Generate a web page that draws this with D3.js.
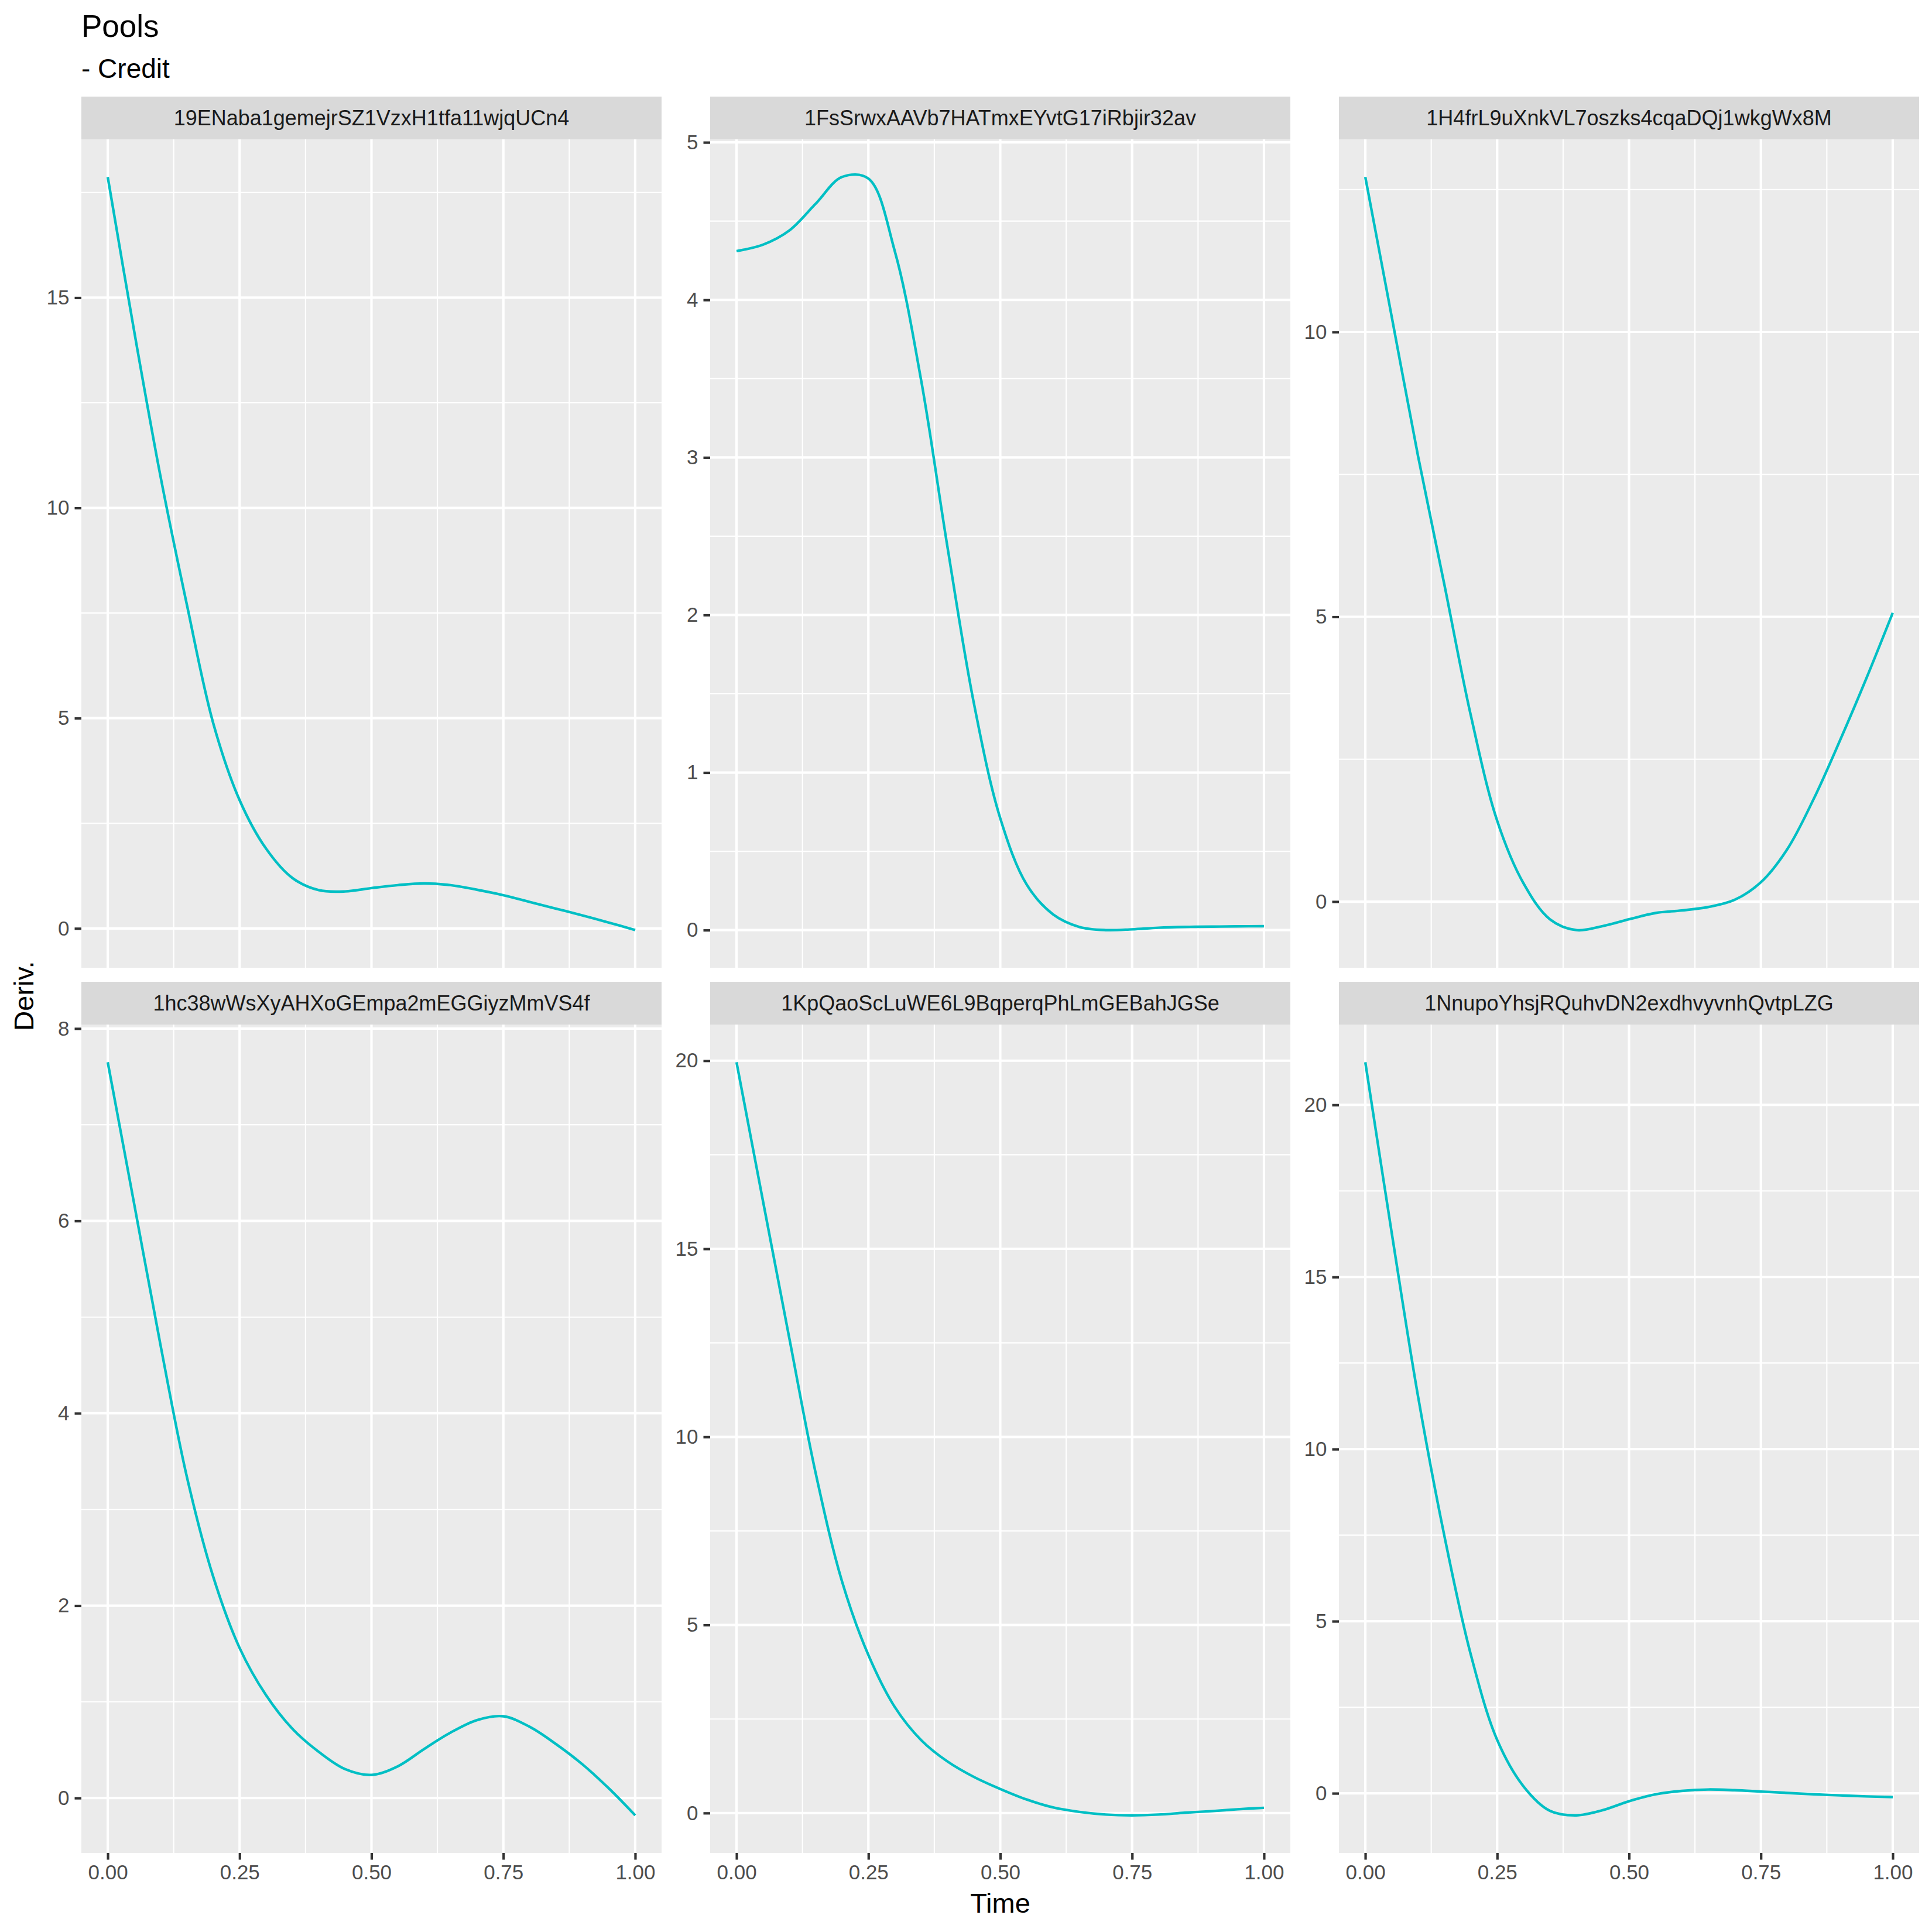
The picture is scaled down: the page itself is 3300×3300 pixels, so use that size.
<!DOCTYPE html>
<html>
<head>
<meta charset="utf-8">
<script src="https://d3js.org/d3.v7.min.js"></script>
<style>
  body { margin: 0; background: #ffffff; }
  text { font-family: "Liberation Sans", Arial, Helvetica, sans-serif; }
</style>
</head>
<body>
<div id="chart"></div>
<script>
// Values
var times = [0, 0.05, 0.10, 0.15, 0.20, 0.25, 0.30, 0.35, 0.40, 0.45, 0.50,
             0.55, 0.60, 0.65, 0.70, 0.75, 0.80, 0.85, 0.90, 0.95, 1.00];

var poolNames = [
  "19ENaba1gemejrSZ1VzxH1tfa11wjqUCn4",
  "1FsSrwxAAVb7HATmxEYvtG17iRbjir32av",
  "1H4frL9uXnkVL7oszks4cqaDQj1wkgWx8M",
  "1hc38wWsXyAHXoGEmpa2mEGGiyzMmVS4f",
  "1KpQaoScLuWE6L9BqperqPhLmGEBahJGSe",
  "1NnupoYhsjRQuhvDN2exdhvyvnhQvtpLZG"
];

var deriv19EN = [17.87, 14.21, 10.75, 7.70, 4.88, 3.05, 1.90, 1.20, 0.91, 0.88, 0.96,
                 1.03, 1.07, 1.03, 0.92, 0.79, 0.63, 0.47, 0.31, 0.14, -0.04];
var deriv1FsS = [4.31, 4.35, 4.44, 4.61, 4.78, 4.77, 4.31, 3.49, 2.43, 1.44, 0.71,
                 0.29, 0.10, 0.02, 0.00, 0.005, 0.015, 0.02, 0.022, 0.024, 0.025];
var deriv1H4f = [12.72, 10.27, 7.82, 5.56, 3.27, 1.42, 0.32, -0.31, -0.50, -0.43, -0.31,
                 -0.20, -0.155, -0.095, 0.03, 0.34, 0.92, 1.80, 2.83, 3.92, 5.07];
var deriv1hc3 = [7.65, 6.18, 4.71, 3.34, 2.30, 1.56, 1.07, 0.72, 0.48, 0.30, 0.24,
                 0.33, 0.51, 0.68, 0.81, 0.85, 0.74, 0.56, 0.35, 0.10, -0.18];
var deriv1KpQ = [19.96, 16.28, 12.63, 9.04, 6.16, 4.20, 2.82, 1.94, 1.37, 0.96, 0.64,
                 0.36, 0.15, 0.03, -0.04, -0.06, -0.04, 0.01, 0.05, 0.10, 0.14];
var deriv1Nnu = [21.24, 16.29, 11.53, 7.47, 4.03, 1.55, 0.20, -0.51, -0.64, -0.49, -0.23,
                 -0.03, 0.07, 0.11, 0.09, 0.05, 0.01, -0.03, -0.06, -0.09, -0.11];

var derivList = [deriv19EN, deriv1FsS, deriv1H4f, deriv1hc3, deriv1KpQ, deriv1Nnu];

// y tick values per panel (free y scales)
var yTicksList = [
  [0, 5, 10, 15],
  [0, 1, 2, 3, 4, 5],
  [0, 5, 10],
  [0, 2, 4, 6, 8],
  [0, 5, 10, 15, 20],
  [0, 5, 10, 15, 20]
];

var xTicks = [0, 0.25, 0.50, 0.75, 1.00];
var xTickLabels = ["0.00", "0.25", "0.50", "0.75", "1.00"];

var titleText = "Pools";
var subtitleText = "- Credit";
var xTitle = "Time";
var yTitle = "Deriv.";

// Layout (pixels)
var W = 3300, H = 3300;
var panelW = 991, panelH = 1415;
var stripH = 73;
var colLeft = [139, 1213, 2287];
var rowStripTop = [165, 1677];
var lineColor = "#00BFC4";

var svg = d3.select("#chart")
  .append("svg")
    .attr("width", W)
    .attr("height", H);

svg.append("rect").attr("width", W).attr("height", H).attr("fill", "#ffffff");

// title and subtitle, aligned with the panels
svg.append("text")
  .attr("x", colLeft[0]).attr("y", 63)
  .style("font-size", "53px").style("fill", "#000")
  .text(titleText);
svg.append("text")
  .attr("x", colLeft[0]).attr("y", 133)
  .style("font-size", "46px").style("fill", "#000")
  .text(subtitleText);

// shared x scale (per panel origin)
var x = d3.scaleLinear().domain([-0.05, 1.05]).range([0, panelW]);

function minorsBetween(ticks) {
  var step = ticks[1] - ticks[0];
  var out = [];
  out.push(ticks[0] - step / 2);
  ticks.forEach(function(t) { out.push(t + step / 2); });
  return out;
}

derivList.forEach(function(vals, i) {
  var col = i % 3, row = Math.floor(i / 3);
  var left = colLeft[col];
  var stripTop = rowStripTop[row];
  var top = stripTop + stripH;

  var data = times.map(function(t, j) { return {x: t, y: vals[j]}; });

  // 5% expansion like ggplot
  var ext = d3.extent(vals);
  var pad = (ext[1] - ext[0]) * 0.05;
  var y = d3.scaleLinear().domain([ext[0] - pad, ext[1] + pad]).range([panelH, 0]);

  var yTicks = yTicksList[i];
  var yMinor = minorsBetween(yTicks).filter(function(v) {
    return v >= y.domain()[0] && v <= y.domain()[1];
  });
  var xMinor = [0.125, 0.375, 0.625, 0.875];

  // strip
  svg.append("rect")
    .attr("x", left).attr("y", stripTop)
    .attr("width", panelW).attr("height", stripH)
    .attr("fill", "#D9D9D9");
  svg.append("text")
    .attr("x", left + panelW / 2).attr("y", stripTop + stripH / 2)
    .attr("dy", "0.36em")
    .attr("text-anchor", "middle")
    .style("font-size", "36px").style("fill", "#1A1A1A")
    .text(poolNames[i]);

  var g = svg.append("g").attr("transform", "translate(" + left + "," + top + ")");

  g.append("rect").attr("width", panelW).attr("height", panelH).attr("fill", "#EBEBEB");

  // minor grid
  g.selectAll(".ymin").data(yMinor).enter().append("line")
    .attr("x1", 0).attr("x2", panelW)
    .attr("y1", function(d) { return y(d); }).attr("y2", function(d) { return y(d); })
    .attr("stroke", "#fff").attr("stroke-width", 2.1);
  g.selectAll(".xmin").data(xMinor).enter().append("line")
    .attr("y1", 0).attr("y2", panelH)
    .attr("x1", function(d) { return x(d); }).attr("x2", function(d) { return x(d); })
    .attr("stroke", "#fff").attr("stroke-width", 2.1);

  // major grid
  g.selectAll(".ymaj").data(yTicks).enter().append("line")
    .attr("x1", 0).attr("x2", panelW)
    .attr("y1", function(d) { return y(d); }).attr("y2", function(d) { return y(d); })
    .attr("stroke", "#fff").attr("stroke-width", 4.2);
  g.selectAll(".xmaj").data(xTicks).enter().append("line")
    .attr("y1", 0).attr("y2", panelH)
    .attr("x1", function(d) { return x(d); }).attr("x2", function(d) { return x(d); })
    .attr("stroke", "#fff").attr("stroke-width", 4.2);

  // the curve
  var line = d3.line()
    .x(function(d) { return x(d.x); })
    .y(function(d) { return y(d.y); })
    .curve(d3.curveCatmullRom.alpha(0.5));

  g.append("path")
    .datum(data)
    .attr("d", line)
    .attr("fill", "none")
    .attr("stroke", lineColor)
    .attr("stroke-width", 4.4);

  // y axis
  var yAxis = d3.axisLeft(y).tickValues(yTicks).tickSize(11.5).tickPadding(9)
    .tickFormat(function(d) { return d.toString(); });
  var ya = g.append("g").call(yAxis);
  ya.select(".domain").remove();
  ya.selectAll("line").attr("stroke", "#333333").attr("stroke-width", 4.2);
  ya.selectAll("text")
    .attr("font-family", null)
    .style("font-size", "35px").style("fill", "#4D4D4D");

  // x axis only on bottom row
  if (row === 1) {
    var xAxis = d3.axisBottom(x).tickValues(xTicks).tickSize(11.5).tickPadding(9)
      .tickFormat(function(d, k) { return xTickLabels[k]; });
    var xa = g.append("g").attr("transform", "translate(0," + panelH + ")").call(xAxis);
    xa.select(".domain").remove();
    xa.selectAll("line").attr("stroke", "#333333").attr("stroke-width", 4.2);
    xa.selectAll("text")
      .attr("font-family", null)
      .style("font-size", "35px").style("fill", "#4D4D4D");
  }
});

// axis titles
svg.append("text")
  .attr("x", (colLeft[0] + colLeft[2] + panelW) / 2).attr("y", 3267)
  .attr("text-anchor", "middle")
  .style("font-size", "47px").style("fill", "#000")
  .text(xTitle);

svg.append("text")
  .attr("transform", "translate(57," + 1701 + ") rotate(-90)")
  .attr("text-anchor", "middle")
  .style("font-size", "47px").style("fill", "#000")
  .text(yTitle);
</script>
</body>
</html>
